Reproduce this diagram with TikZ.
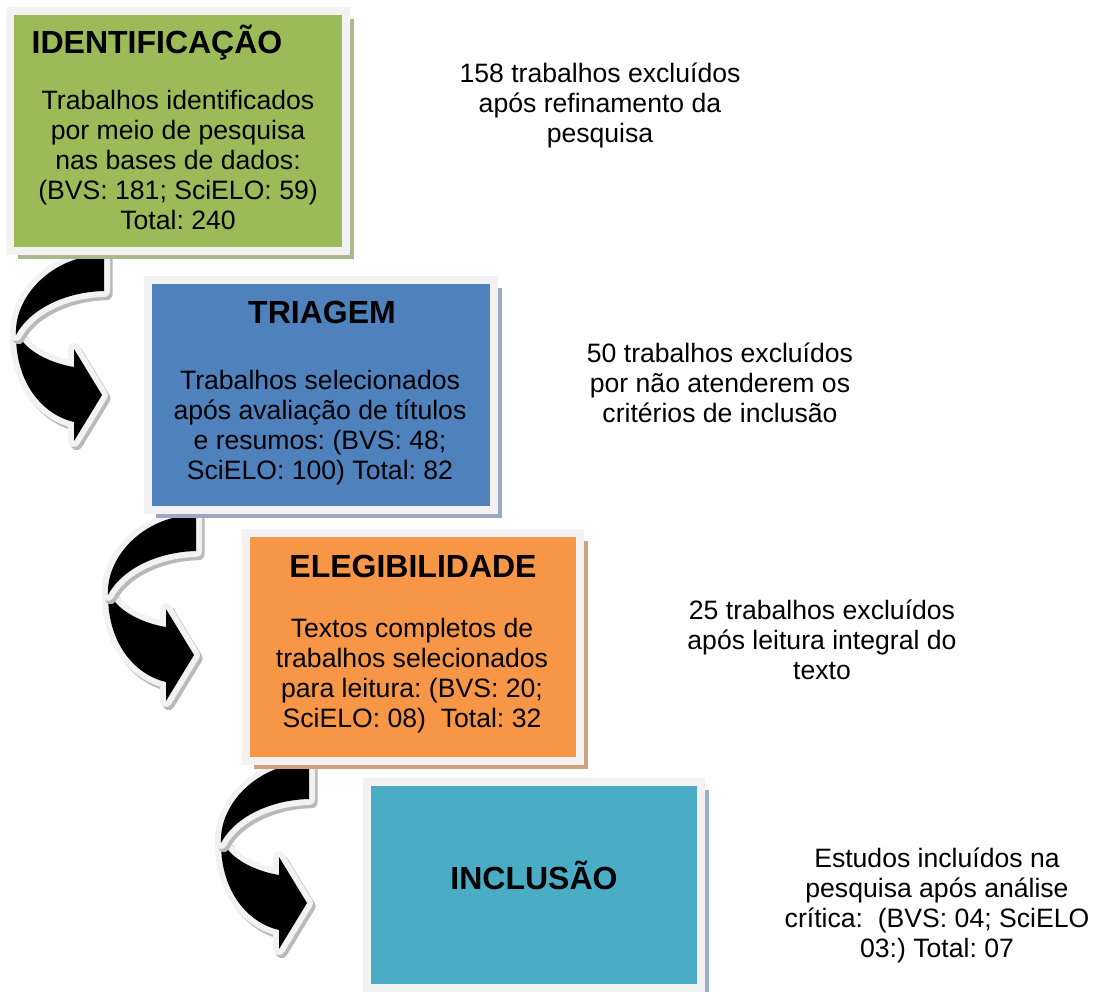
\documentclass[tikz,border=0pt]{standalone}
\usepackage{fontspec}
\setmainfont{Liberation Sans}
\usetikzlibrary{shadows}
\definecolor{idgreen}{HTML}{9BBB59}
\definecolor{trblue}{HTML}{4F81BD}
\definecolor{elorange}{HTML}{F79646}
\definecolor{inteal}{HTML}{4BACC6}
\definecolor{framegray}{HTML}{F2F2F2}
\definecolor{greenshade}{HTML}{A9B98E}
\definecolor{blueshade}{HTML}{9AAAC0}
\definecolor{orangeshade}{HTML}{D2A07A}
\definecolor{tealshade}{HTML}{93B5C1}
\newcommand{\bodyfont}{\fontsize{13.3}{15}\selectfont}
\newcommand{\headfont}{\fontsize{16}{18}\selectfont\bfseries}
\frenchspacing

\begin{document}
\begin{tikzpicture}[x=0.5pt,y=-0.5pt,
  stagebox/.style={draw=framegray,line width=4pt,inner sep=0pt,
    drop shadow={shadow xshift=4pt,shadow yshift=-4pt,fill=#1,opacity=1}},
  headtxt/.style={font=\headfont,inner sep=0pt,anchor=base},
  bodytxt/.style={font=\bodyfont,align=center,inner sep=0pt},
  turnarrow/.style={
    preaction={draw=gray!55,fill=gray!55,line width=6pt,line join=round,
      transform canvas={shift={(1.3pt,-1.6pt)}}},
    preaction={draw=framegray,line width=6pt,line join=round},
    fill=black},
  pics/bendarrow/.style={code={
    \path[turnarrow] (-88,80) .. controls (-88,130) and (-60,160) .. (-30,167)
       -- (-30,186) -- (-2,140) -- (-30,94) -- (-30,112)
       .. controls (-55,108) and (-78,95) .. (-84,82) -- cycle;
    \path[turnarrow] (0,0) -- (0,36) .. controls (-40,37) and (-75,55) .. (-88,80)
       .. controls (-90,40) and (-50,0) .. (0,0) -- cycle;
  }}]
  \useasboundingbox (0,0) rectangle (1094,992);
  % curved arrows between the stages
  \pic at (104,255) {bendarrow};
  \pic at (196,515) {bendarrow};
  \pic at (309,763) {bendarrow};
  % stages
  \node[stagebox=greenshade,fill=idgreen,minimum width=167.75pt,minimum height=120pt]
       (ident) at (178,130.5) {};
  \node[stagebox=blueshade,fill=trblue,minimum width=173pt,minimum height=115.25pt]
       (triag) at (320.5,395) {};
  \node[stagebox=orangeshade,fill=elorange,minimum width=166.75pt,minimum height=114.25pt]
       (elegi) at (413,647) {};
  \node[stagebox=tealshade,fill=inteal,minimum width=166.75pt,minimum height=103.25pt]
       (inclu) at (534,885) {};
  \node[headtxt] (identhead) at (157,53) {IDENTIFICAÇÃO};
  \node[bodytxt] (identbody) at (178,160)
       {Trabalhos identificados\\ por meio de pesquisa\\ nas bases de dados:\\
        (BVS: 181; SciELO: 59)\\ Total: 240};
  \node[headtxt] (triaghead) at (322,323) {TRIAGEM};
  \node[bodytxt] (triagbody) at (320,428)
       {Trabalhos selecionados\\ após avaliação de títulos\\ e resumos: (BVS: 48;\\
        SciELO: 100) Total: 82};
  \node[headtxt] (elegihead) at (413,577) {ELEGIBILIDADE};
  \node[bodytxt] (elegibody) at (412,676)
       {Textos completos de\\ trabalhos selecionados\\ para leitura: (BVS: 20;\\
        SciELO: 08)\ \ Total: 32};
  \node[headtxt] (incluhead) at (534,889) {INCLUSÃO};
  % notes on the right
  \node[bodytxt] (note1) at (600,105)
       {158 trabalhos excluídos\\ após refinamento da\\ pesquisa};
  \node[bodytxt] (note2) at (720,383)
       {50 trabalhos excluídos\\ por não atenderem os\\ critérios de inclusão};
  \node[bodytxt] (note3) at (822,640)
       {25 trabalhos excluídos\\ após leitura integral do\\ texto};
  \node[bodytxt] (note4) at (937,905)
       {Estudos incluídos na\\ pesquisa após análise\\ crítica:\ \ (BVS: 04; SciELO\\
        03:) Total: 07};
\end{tikzpicture}
\end{document}
